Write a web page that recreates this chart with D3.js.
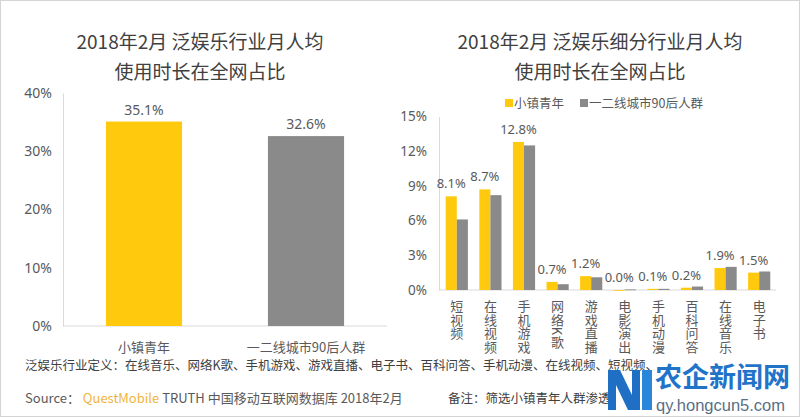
<!DOCTYPE html>
<html><head><meta charset="utf-8">
<script src="https://cdn.jsdelivr.net/npm/d3@7/dist/d3.min.js"></script>
<style>
body{margin:0;background:#fff;}
svg{display:block;font-family:"Noto Sans CJK SC","Noto Sans",sans-serif;}
</style></head>
<body><svg id="c" width="800" height="417"></svg>
<script>
// ---- data ----
const leftCategories = ["小镇青年", "一二线城市90后人群"];
const leftValues = [35.1, 32.6];
const leftTicks = [0, 10, 20, 30, 40];

const rightCategories = ["短视频", "在线视频", "手机游戏", "网络K歌", "游戏直播", "电影演出", "手机动漫", "百科问答", "在线音乐", "电子书"];
const seriesNames = ["小镇青年", "一二线城市90后人群"];
const townYouth = [8.1, 8.7, 12.8, 0.7, 1.2, 0.0, 0.1, 0.2, 1.9, 1.5];
const tier12Post90 = [6.1, 8.2, 12.5, 0.5, 1.1, 0.05, 0.1, 0.3, 2.0, 1.6];
const rightTicks = [0, 3, 6, 9, 12, 15];

const colors = ["#FFC90E", "#8A8A8A"];
const svg = d3.select("#c");
const txt = "#595959";

svg.append("rect").attr("x",0.5).attr("y",0.5).attr("width",799).attr("height",416)
  .attr("fill","none").attr("stroke","#d4d4d4");

// ---- titles ----
function title(cx, lines){
  lines.forEach((l,i)=>svg.append("text").attr("x",cx).attr("y",49+i*30)
    .attr("text-anchor","middle").attr("font-size",19).attr("fill","#404040").text(l));
}
title(200, ["2018年2月 泛娱乐行业月人均", "使用时长在全网占比"]);
title(600, ["2018年2月 泛娱乐细分行业月人均", "使用时长在全网占比"]);

// ---- left chart ----
const xL = d3.scaleBand().domain(leftCategories).range([63,387]).paddingInner(0.53).paddingOuter(0.265);
const yL = d3.scaleLinear().domain([0,40]).range([326,93]);
const gL = svg.append("g");
const axL = gL.append("g").attr("transform","translate(63,0)")
  .call(d3.axisLeft(yL).tickValues(leftTicks).tickSize(0).tickPadding(11).tickFormat(d=>d+"%"));
axL.select(".domain").attr("stroke","#d9d9d9");
axL.selectAll("text").attr("font-size",14).attr("fill",txt).attr("font-family","'Noto Sans',sans-serif");
gL.append("line").attr("x1",63).attr("x2",387).attr("y1",yL(0)).attr("y2",yL(0)).attr("stroke","#d9d9d9");
gL.selectAll("rect.b").data(leftValues).join("rect")
  .attr("x",(d,i)=>xL(leftCategories[i])).attr("width",xL.bandwidth())
  .attr("y",d=>yL(d)).attr("height",d=>yL(0)-yL(d)).attr("fill",(d,i)=>colors[i]);
gL.selectAll("text.v").data(leftValues).join("text")
  .attr("x",(d,i)=>xL(leftCategories[i])+xL.bandwidth()/2).attr("y",d=>yL(d)-7)
  .attr("text-anchor","middle").attr("font-size",14).attr("fill",txt)
  .attr("font-family","'Noto Sans',sans-serif").text(d=>d.toFixed(1)+"%");
gL.selectAll("text.c").data(leftCategories).join("text")
  .attr("x",d=>xL(d)+xL.bandwidth()/2).attr("y",352)
  .attr("text-anchor","middle").attr("font-size",13).attr("fill",txt).text(d=>d);

// ---- right chart ----
const x0 = d3.scaleBand().domain(rightCategories).range([440,776]).paddingInner(0.34).paddingOuter(0.17);
const x1 = d3.scaleBand().domain(seriesNames).range([0,x0.bandwidth()]);
const yR = d3.scaleLinear().domain([0,15]).range([290,116.5]);
const gR = svg.append("g");
const axR = gR.append("g").attr("transform","translate(439,0)")
  .call(d3.axisLeft(yR).tickValues(rightTicks).tickSize(0).tickPadding(12).tickFormat(d=>d+"%"));
axR.select(".domain").attr("stroke","#d9d9d9");
axR.selectAll("text").attr("font-size",13.5).attr("fill",txt).attr("font-family","'Noto Sans',sans-serif");
gR.append("line").attr("x1",439).attr("x2",776).attr("y1",yR(0)).attr("y2",yR(0)).attr("stroke","#d9d9d9");

const seriesData = [townYouth, tier12Post90];
seriesData.forEach((vals,s)=>{
  gR.selectAll("rect.s"+s).data(vals).join("rect").attr("class","s"+s)
    .attr("x",(d,i)=>x0(rightCategories[i])+x1(seriesNames[s])).attr("width",x1.bandwidth())
    .attr("y",d=>yR(d)).attr("height",d=>Math.max(0.8,yR(0)-yR(d))).attr("fill",colors[s]);
});
gR.selectAll("text.v").data(townYouth).join("text")
  .attr("x",(d,i)=>x0(rightCategories[i])+x1(seriesNames[0])+x1.bandwidth()/2)
  .attr("y",d=>yR(d)-8).attr("text-anchor","middle").attr("font-size",13).attr("fill",txt)
  .attr("font-family","'Noto Sans',sans-serif").text(d=>d.toFixed(1)+"%");
gR.selectAll("text.c").data(rightCategories).join("text")
  .attr("x",d=>x0(d)+x0.bandwidth()/2).attr("y",300)
  .attr("writing-mode","vertical-rl").style("writing-mode","vertical-rl")
  .attr("letter-spacing",0.4)
  .attr("font-size",13).attr("fill",txt).text(d=>d);

// legend
const leg = [{x:505,name:seriesNames[0]},{x:580,name:seriesNames[1]}];
leg.forEach((l,i)=>{
  svg.append("rect").attr("x",l.x).attr("y",99).attr("width",8).attr("height",8).attr("fill",colors[i]);
  svg.append("text").attr("x",l.x+9).attr("y",108).attr("font-size",12.5).attr("fill",txt).text(l.name);
});

// ---- footnotes ----
svg.append("text").attr("x",25).attr("y",370).attr("font-size",12.5).attr("fill","#404040")
  .text("泛娱乐行业定义：在线音乐、网络K歌、手机游戏、游戏直播、电子书、百科问答、手机动漫、在线视频、短视频、");
const src = svg.append("text").attr("x",25).attr("y",403).attr("font-size",13).attr("fill","#595959");
src.append("tspan").text("Source： ");
src.append("tspan").attr("fill","#F0B43C").text("QuestMobile");
src.append("tspan").text(" TRUTH 中国移动互联网数据库 2018年2月");
svg.append("text").attr("x",448).attr("y",403).attr("font-size",12.5).attr("fill","#404040")
  .text("备注：筛选小镇青年人群渗透");

// watermark (overlay in the reference image)
svg.append("path").attr("d","M608,410 L608,370 L620,370 L632,395 L632,370 L640,370 L640,410 L628,410 L616,385 L616,410 Z").attr("fill","#1f6fc4");
svg.append("path").attr("d","M642,370 L652,370 L652,410 L642,410 Z").attr("fill","#2a86d8");
svg.append("text").attr("x",655).attr("y",387).attr("font-size",27).attr("font-weight","bold").attr("fill","#1f73c9").text("农企新闻网");
svg.append("text").attr("x",656).attr("y",411).attr("font-size",16.5).attr("fill","#5a6f86").attr("font-family","'Liberation Sans',sans-serif").text("qy.hongcun5.com");
</script></body></html>
